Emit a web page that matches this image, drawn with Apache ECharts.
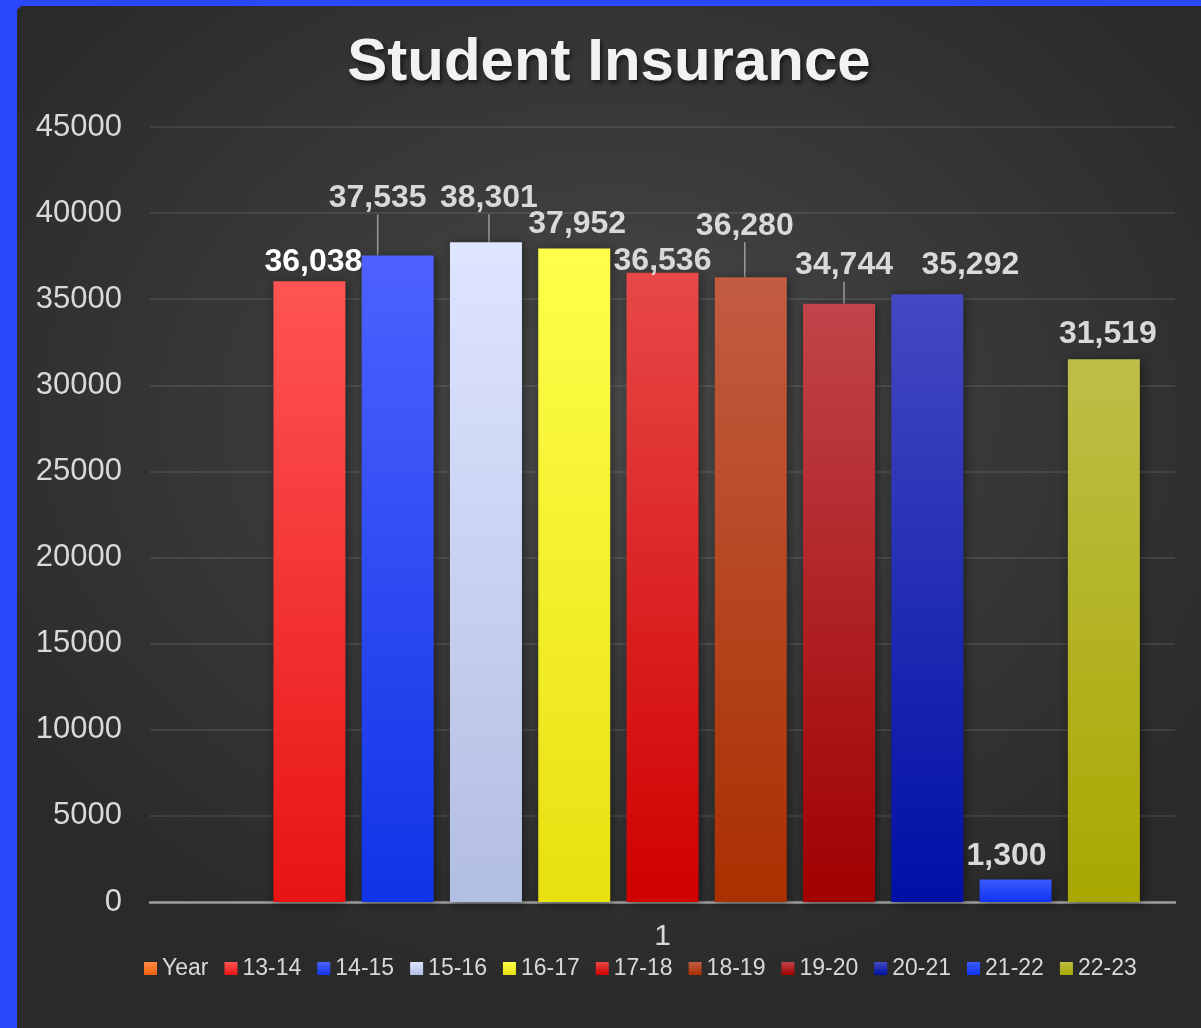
<!DOCTYPE html>
<html>
<head>
<meta charset="utf-8">
<script src="https://cdn.jsdelivr.net/npm/echarts@6/dist/echarts.min.js"></script>
<style>
  html, body { margin: 0; padding: 0; width: 1201px; height: 1028px; overflow: hidden; background: #2B48FF; }
  #panel {
    position: absolute; left: 17px; top: 6px; width: 1184px; height: 1022px;
    background: radial-gradient(ellipse 62% 58% at 50% 40%, #4b4b4b 0%, #3a3a3a 45%, #2a2a2a 100%);
    clip-path: polygon(4px 0, 100% 0, 100% 100%, 0 100%, 0 4px);
  }
  #chart { width: 1184px; height: 1022px; }
</style>
</head>
<body>
<div id="panel"><div id="chart"></div></div>
<script>
// ---- data ----
const categories = ['1'];
const seriesNames = ['Year', '13-14', '14-15', '15-16', '16-17', '17-18', '18-19', '19-20', '20-21', '21-22', '22-23'];
const seriesValues = [null, 36038, 37535, 38301, 37952, 36536, 36280, 34744, 35292, 1300, 31519];
const yTicks = { min: 0, max: 45000, interval: 5000 };

// ---- styles (not data) ----
const topColors    = ['#FF8A45', '#FF5454', '#4D62FF', '#DEE5FF', '#FFFF4A', '#E84848', '#C25C42', '#C0454A', '#4449C2', '#3A5BFF', '#BEBE48'];
const bottomColors = ['#F06010', '#E81414', '#1034E6', '#B2BEE2', '#E8E010', '#D00000', '#AA3000', '#A00000', '#0010A6', '#1034F0', '#A8A800'];
const labelColors  = [null, '#FFFFFF', '#D9D9D9', '#D9D9D9', '#D9D9D9', '#D9D9D9', '#D9D9D9', '#D9D9D9', '#D9D9D9', '#D9D9D9', '#D9D9D9'];
const labelShift = [[0,0],[4,0],[-20,-38],[3,-25],[3,-5],[0,7],[-6,-32],[5,-19],[43,-10],[-9,-4],[4,-6]];
const leaderLine = [false,false,true,true,false,false,true,true,false,false,false];

const chart = echarts.init(document.getElementById('chart'), null, { renderer: 'canvas' });

const series = seriesNames.map((name, i) => ({
  name: name,
  type: 'bar',
  data: [seriesValues[i]],
  barWidth: 72,
  barGap: '22.6%',
  itemStyle: {
    color: new echarts.graphic.LinearGradient(0, 0, 0, 1, [
      { offset: 0, color: topColors[i] },
      { offset: 1, color: bottomColors[i] }
    ]),
    shadowBlur: 10,
    shadowColor: 'rgba(0,0,0,0.45)',
    shadowOffsetX: 2,
    shadowOffsetY: 2
  },
  label: {
    show: seriesValues[i] !== null,
    position: 'top',
    distance: 3,
    color: labelColors[i] || '#D9D9D9',
    fontFamily: 'Liberation Sans, Arial, sans-serif',
    fontWeight: 'bold',
    fontSize: 32,
    formatter: p => Number(p.value).toLocaleString('en-US')
  },
  labelLayout: { dx: labelShift[i][0], dy: labelShift[i][1] },
  labelLine: {
    show: leaderLine[i],
    lineStyle: { color: '#9C9C9C', width: 1.5 }
  },
  emphasis: { disabled: true }
}));

chart.setOption({
  animation: false,
  backgroundColor: 'transparent',
  title: {
    text: 'Student Insurance',
    left: 'center',
    top: 22,
    textStyle: {
      color: '#F2F2F2',
      fontFamily: 'Liberation Sans, Arial, sans-serif',
      fontWeight: 'bold',
      fontSize: 60,
      textShadowColor: 'rgba(0,0,0,0.6)',
      textShadowBlur: 4,
      textShadowOffsetX: 2,
      textShadowOffsetY: 3
    }
  },
  legend: {
    data: seriesNames,
    left: 122,
    top: 946,
    itemWidth: 13,
    itemHeight: 13,
    itemGap: 16,
    icon: 'rect',
    textStyle: { color: '#D9D9D9', fontSize: 23, fontFamily: 'Liberation Sans, Arial, sans-serif' }
  },
  grid: { left: 133, right: 26, top: 121, bottom: 126, containLabel: false },
  xAxis: {
    type: 'category',
    data: categories,
    axisLine: { show: true, lineStyle: { color: '#9E9E9E', width: 2.5 } },
    axisTick: { show: false },
    axisLabel: { color: '#D9D9D9', fontSize: 30, margin: 20, fontFamily: 'Liberation Sans, Arial, sans-serif' }
  },
  yAxis: {
    type: 'value',
    min: yTicks.min,
    max: yTicks.max,
    interval: yTicks.interval,
    axisLine: { show: false },
    axisTick: { show: false },
    splitLine: { lineStyle: { color: 'rgba(255,255,255,0.12)', width: 1.5 } },
    axisLabel: {
      color: '#D9D9D9', fontSize: 31, margin: 28,
      fontFamily: 'Liberation Sans, Arial, sans-serif',
      formatter: v => String(v)
    }
  },
  series: series
});
</script>
</body>
</html>
